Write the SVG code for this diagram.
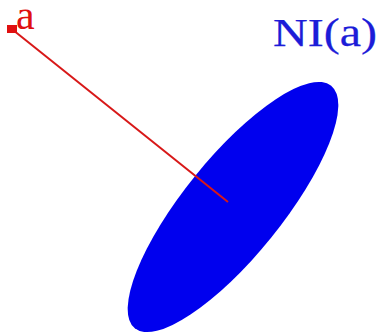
<svg xmlns="http://www.w3.org/2000/svg" width="379" height="335" viewBox="0 0 379 335">
<style>
.lbl{font-family:"Liberation Serif","DejaVu Serif",serif}
</style>
<rect width="379" height="335" fill="#fff"/>
<g id="ni">
<ellipse cx="233" cy="207" rx="156" ry="49" transform="rotate(-51 233 207)" fill="#0000ee"/>
<text class="lbl" x="273" y="46" font-size="39" fill="#1c1cd8" stroke="#1c1cd8" stroke-width="0.25" textLength="104" lengthAdjust="spacingAndGlyphs">NI(a)</text>
</g>
<g id="connectors">
<line x1="13" y1="30" x2="228" y2="202" stroke="#d81818" stroke-width="2"/>
</g>
<g id="a">
<rect x="7" y="25" width="10" height="8" fill="#e01010"/>
<text class="lbl" x="16" y="29" font-size="42" fill="#e01010">a</text>
</g>
</svg>
